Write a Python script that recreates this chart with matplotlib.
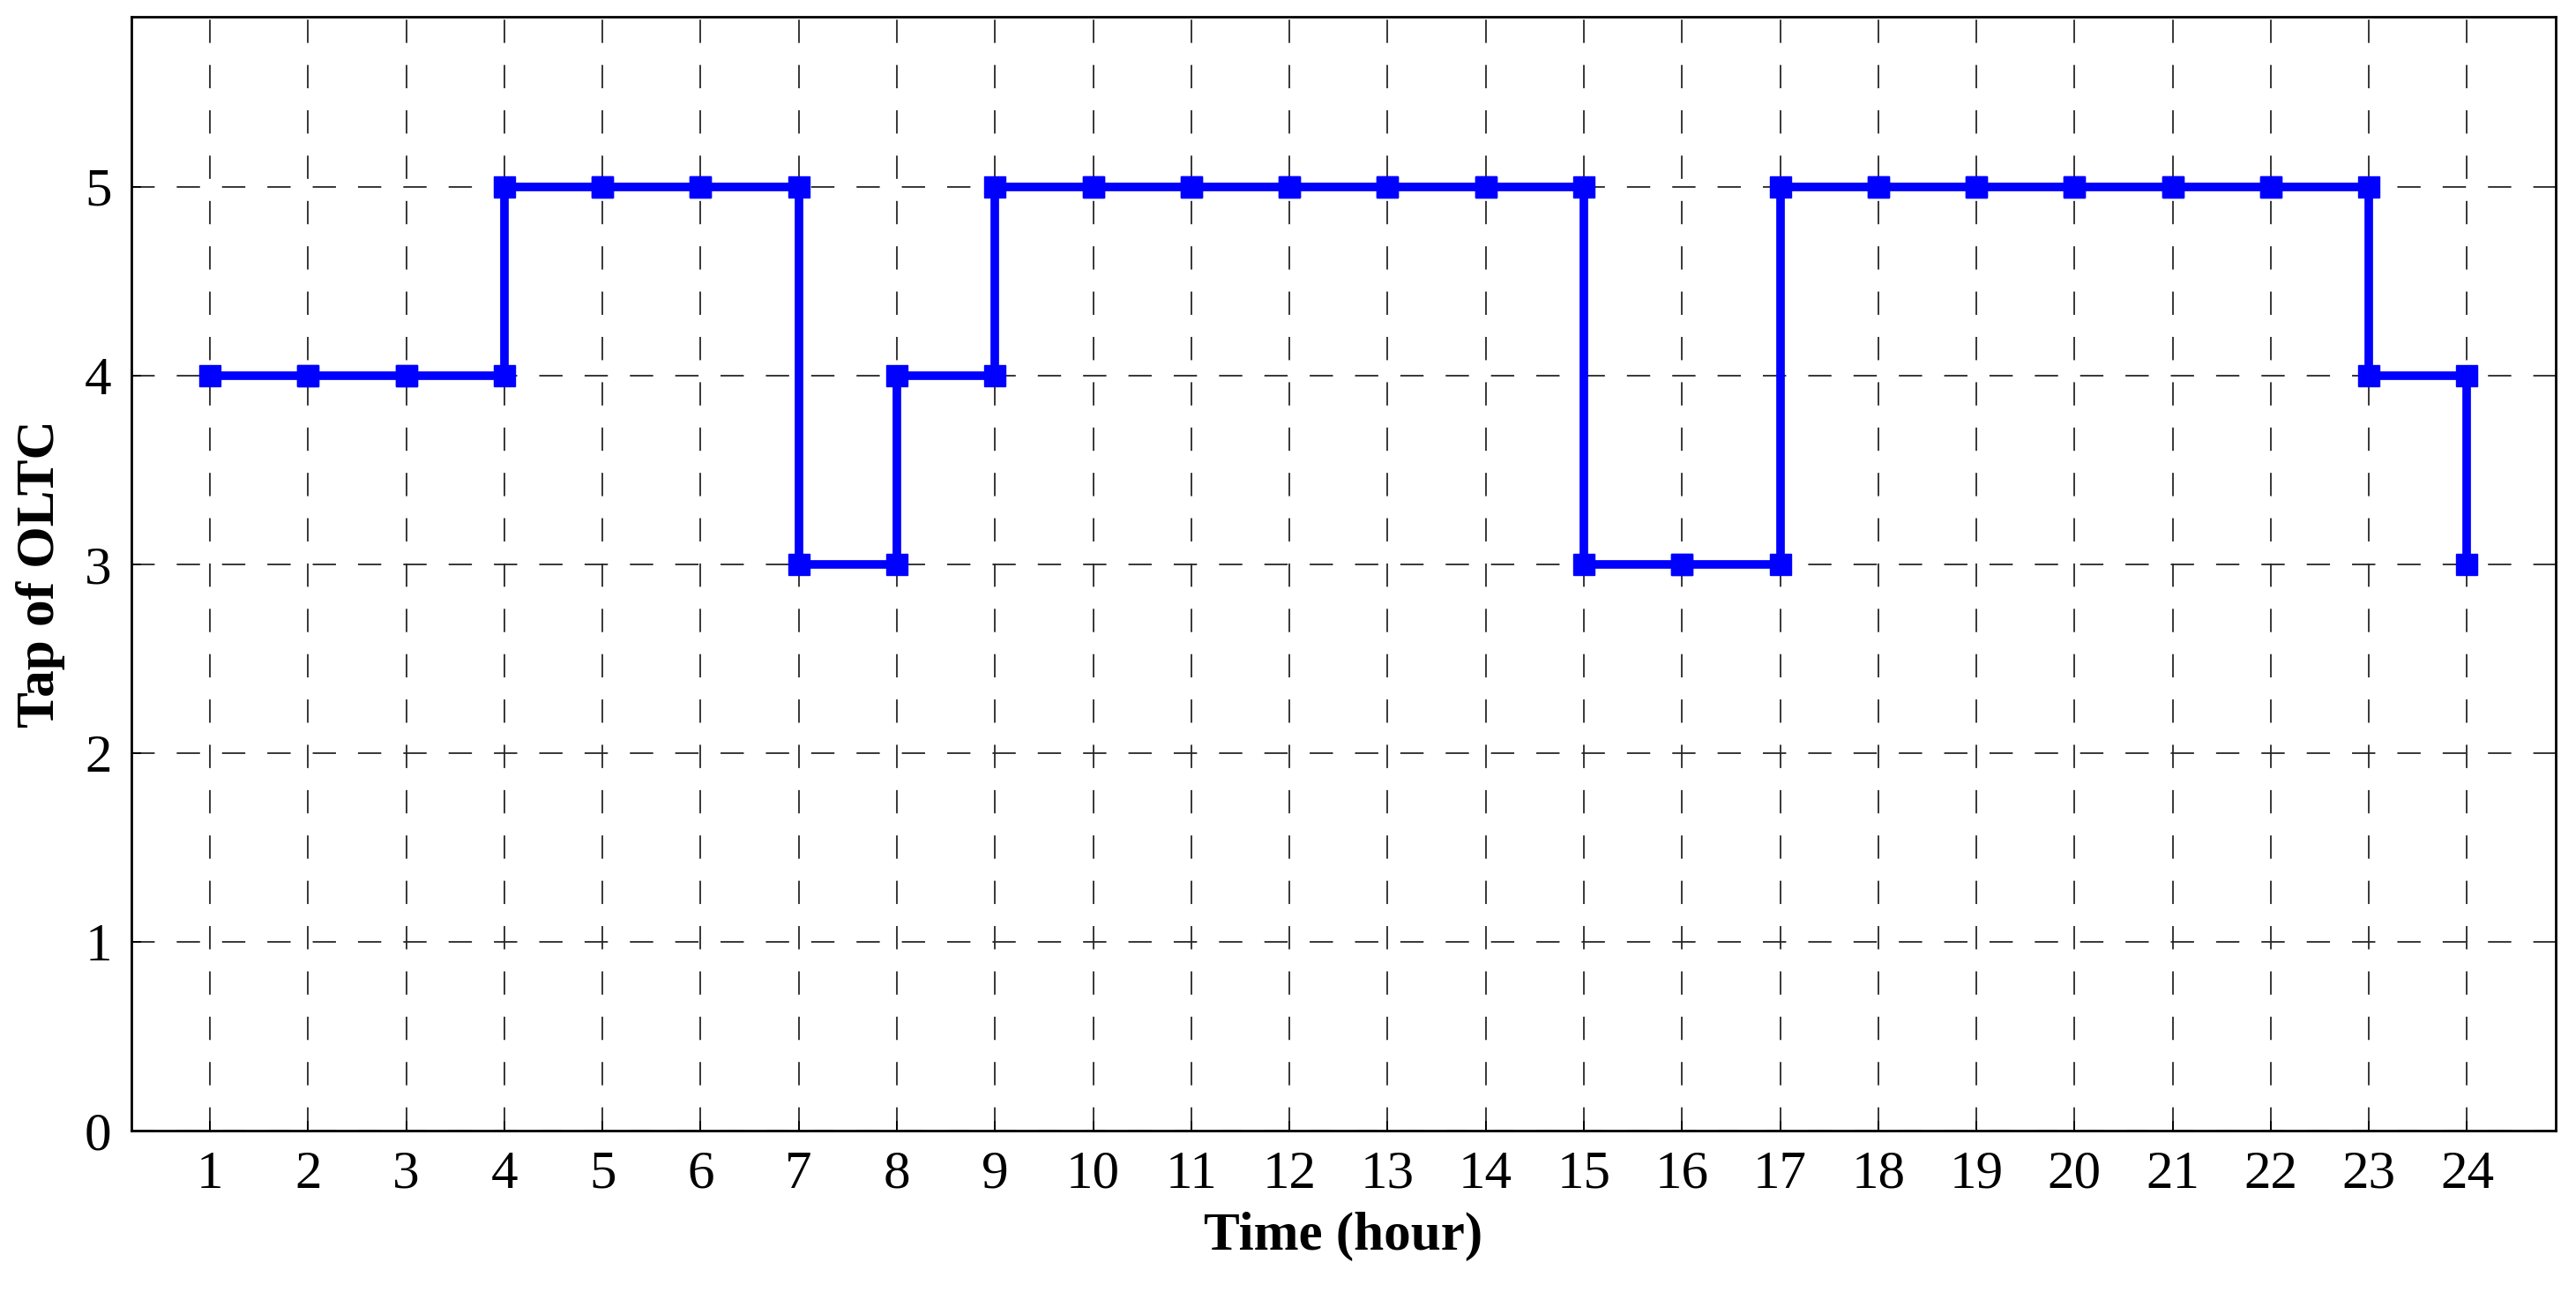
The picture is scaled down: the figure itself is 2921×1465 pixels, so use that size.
import numpy as np
import matplotlib
matplotlib.use("Agg")
import matplotlib.pyplot as plt

plt.rcParams['font.family'] = ['Liberation Serif', 'DejaVu Serif']
plt.rcParams['lines.scale_dashes'] = False

# tap position of the OLTC in each hour
hours = np.arange(1, 25)
tap = np.array([4, 4, 4, 5, 5, 5, 3, 4, 5, 5, 5, 5,
                5, 5, 3, 3, 5, 5, 5, 5, 5, 5, 4, 3])
x_ticks = list(range(1, 25))
y_ticks = [0, 1, 2, 3, 4, 5]

# post-style step vertices, marker on every corner
xs = np.repeat(hours, 2)[1:]
ys = np.repeat(tap, 2)[:-1]

fig = plt.figure(figsize=(29.21, 14.65), dpi=100)
ax = fig.add_axes([0.051, 0.125, 0.941, 0.862])

ax.plot(xs, ys, color='#0000ff', lw=7, marker='s', markersize=17,
        solid_joinstyle='miter', zorder=3)

ax.set_xlim(0.2, 24.9)
ax.set_ylim(0, 5.9)
ax.set_xticks(x_ticks)
ax.set_yticks(y_ticks)
ax.grid(True, color='0.15', lw=1.3, linestyle=(0, (19, 18)))
ax.tick_params(direction='in', length=8, width=1.3, labelsize=44, pad=16)
for s in ax.spines.values():
    s.set_linewidth(2)

ax.set_xlabel('Time (hour)', fontsize=44, fontweight='bold', labelpad=10)
ax.set_ylabel('Tap of OLTC', fontsize=44, fontweight='bold', labelpad=16)

fig.savefig('out.png', dpi=100)
